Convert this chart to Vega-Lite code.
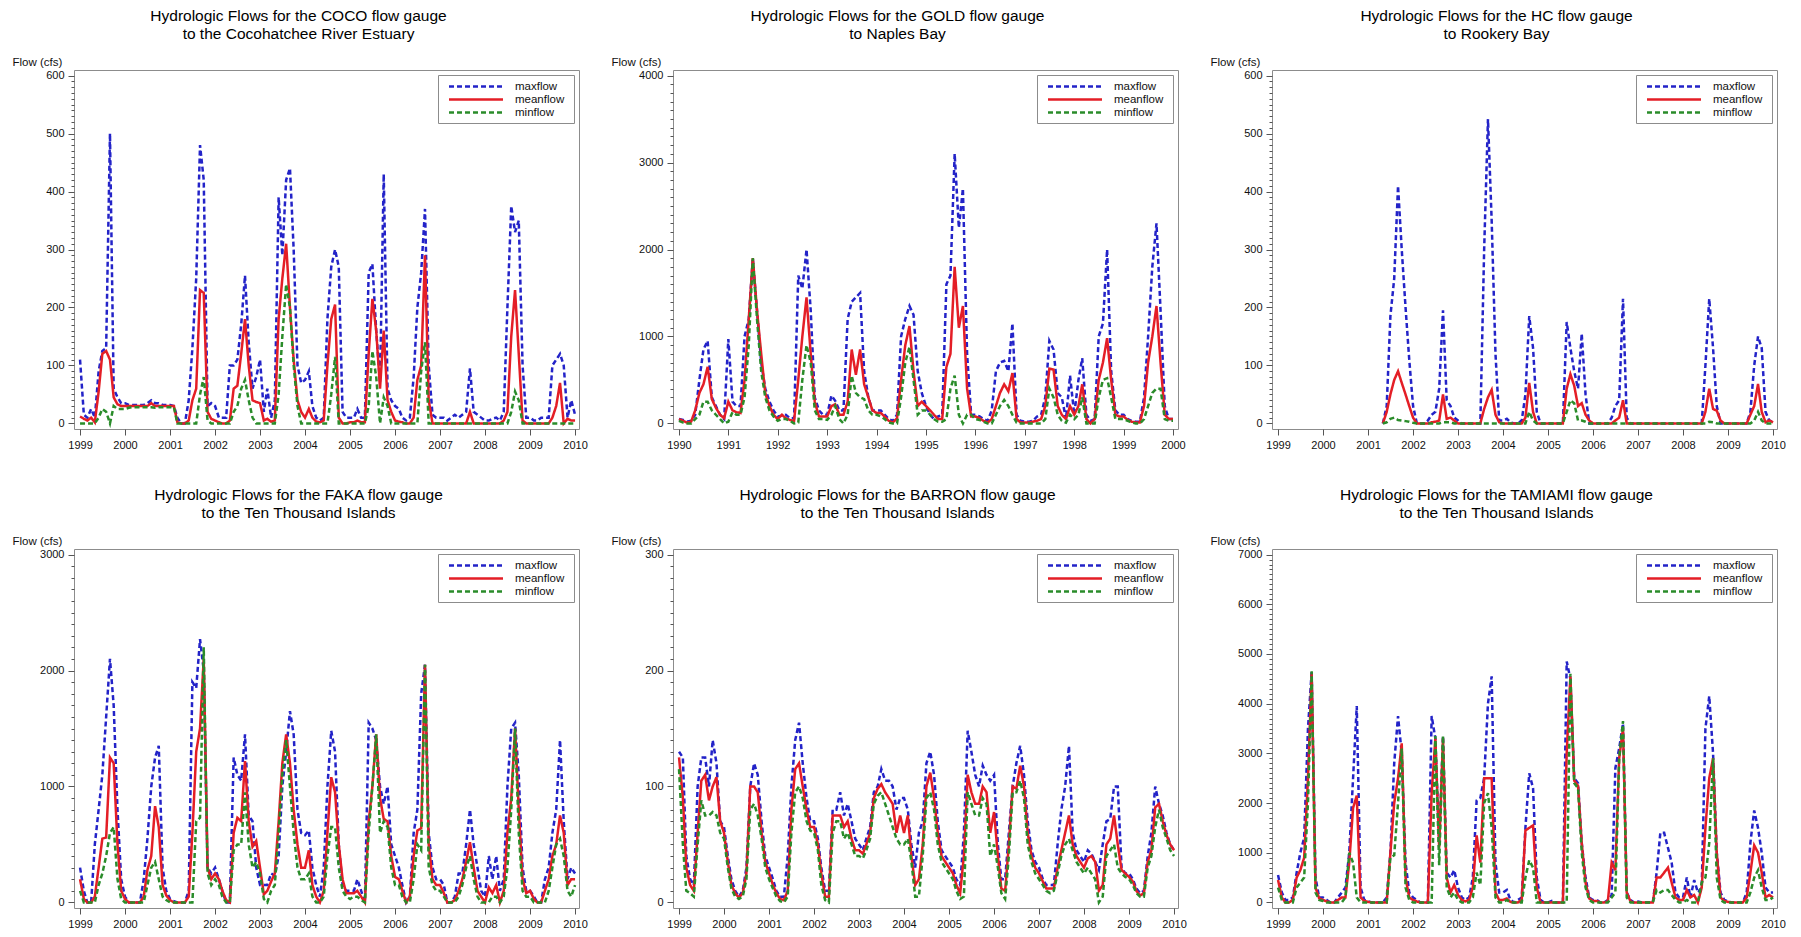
{
"$schema":"https://vega.github.io/schema/vega-lite/v6.json",
"background":"white",
"padding":{"left":11,"top":8,"right":0,"bottom":0},
"columns":3,
"spacing":{"row":120,"column":94},
"bounds":"flush",
"datasets":{
"coco":[
{"d":"1999-01","a":110,"m":12,"n":0},{"d":"1999-02","a":15,"m":8,"n":0},{"d":"1999-03","a":10,"m":5,"n":0},{"d":"1999-04","a":25,"m":10,"n":0},{"d":"1999-05","a":10,"m":2,"n":0},{"d":"1999-06","a":90,"m":55,"n":10},{"d":"1999-07","a":125,"m":120,"n":25},{"d":"1999-08","a":130,"m":125,"n":20},{"d":"1999-09","a":500,"m":110,"n":0},{"d":"1999-10","a":60,"m":45,"n":30},{"d":"1999-11","a":45,"m":33,"n":25},{"d":"1999-12","a":35,"m":30,"n":25},
{"d":"2000-01","a":35,"m":30,"n":25},{"d":"2000-02","a":32,"m":30,"n":27},{"d":"2000-03","a":32,"m":30,"n":28},{"d":"2000-04","a":32,"m":30,"n":28},{"d":"2000-05","a":32,"m":30,"n":28},{"d":"2000-06","a":32,"m":30,"n":28},{"d":"2000-07","a":35,"m":30,"n":28},{"d":"2000-08","a":40,"m":35,"n":28},{"d":"2000-09","a":35,"m":30,"n":27},{"d":"2000-10","a":35,"m":30,"n":28},{"d":"2000-11","a":32,"m":30,"n":28},{"d":"2000-12","a":32,"m":30,"n":28},
{"d":"2001-01","a":32,"m":30,"n":28},{"d":"2001-02","a":30,"m":30,"n":28},{"d":"2001-03","a":10,"m":2,"n":0},{"d":"2001-04","a":0,"m":0,"n":0},{"d":"2001-05","a":0,"m":0,"n":0},{"d":"2001-06","a":40,"m":5,"n":0},{"d":"2001-07","a":130,"m":40,"n":0},{"d":"2001-08","a":250,"m":60,"n":0},{"d":"2001-09","a":480,"m":230,"n":50},{"d":"2001-10","a":420,"m":225,"n":80},{"d":"2001-11","a":30,"m":20,"n":5},{"d":"2001-12","a":35,"m":8,"n":0},
{"d":"2002-01","a":30,"m":5,"n":0},{"d":"2002-02","a":10,"m":2,"n":0},{"d":"2002-03","a":10,"m":0,"n":0},{"d":"2002-04","a":10,"m":0,"n":0},{"d":"2002-05","a":100,"m":5,"n":0},{"d":"2002-06","a":100,"m":60,"n":20},{"d":"2002-07","a":110,"m":65,"n":30},{"d":"2002-08","a":170,"m":120,"n":60},{"d":"2002-09","a":255,"m":180,"n":75},{"d":"2002-10","a":140,"m":100,"n":40},{"d":"2002-11","a":60,"m":40,"n":10},{"d":"2002-12","a":80,"m":37,"n":0},
{"d":"2003-01","a":110,"m":35,"n":0},{"d":"2003-02","a":20,"m":5,"n":0},{"d":"2003-03","a":60,"m":8,"n":0},{"d":"2003-04","a":10,"m":3,"n":0},{"d":"2003-05","a":40,"m":5,"n":0},{"d":"2003-06","a":390,"m":180,"n":50},{"d":"2003-07","a":290,"m":250,"n":150},{"d":"2003-08","a":420,"m":310,"n":240},{"d":"2003-09","a":440,"m":200,"n":200},{"d":"2003-10","a":300,"m":110,"n":100},{"d":"2003-11","a":100,"m":40,"n":30},{"d":"2003-12","a":70,"m":20,"n":0},
{"d":"2004-01","a":75,"m":10,"n":0},{"d":"2004-02","a":90,"m":25,"n":0},{"d":"2004-03","a":30,"m":10,"n":0},{"d":"2004-04","a":10,"m":3,"n":0},{"d":"2004-05","a":5,"m":2,"n":0},{"d":"2004-06","a":10,"m":5,"n":0},{"d":"2004-07","a":180,"m":100,"n":0},{"d":"2004-08","a":270,"m":180,"n":50},{"d":"2004-09","a":300,"m":205,"n":115},{"d":"2004-10","a":270,"m":10,"n":0},{"d":"2004-11","a":20,"m":0,"n":0},{"d":"2004-12","a":10,"m":0,"n":0},
{"d":"2005-01","a":10,"m":2,"n":0},{"d":"2005-02","a":10,"m":2,"n":0},{"d":"2005-03","a":25,"m":5,"n":0},{"d":"2005-04","a":10,"m":2,"n":0},{"d":"2005-05","a":10,"m":2,"n":0},{"d":"2005-06","a":260,"m":120,"n":30},{"d":"2005-07","a":275,"m":215,"n":125},{"d":"2005-08","a":160,"m":160,"n":80},{"d":"2005-09","a":70,"m":60,"n":0},{"d":"2005-10","a":430,"m":160,"n":45},{"d":"2005-11","a":60,"m":40,"n":30},{"d":"2005-12","a":40,"m":20,"n":0},
{"d":"2006-01","a":30,"m":5,"n":0},{"d":"2006-02","a":25,"m":3,"n":0},{"d":"2006-03","a":10,"m":2,"n":0},{"d":"2006-04","a":5,"m":0,"n":0},{"d":"2006-05","a":10,"m":0,"n":0},{"d":"2006-06","a":80,"m":10,"n":0},{"d":"2006-07","a":200,"m":75,"n":0},{"d":"2006-08","a":260,"m":100,"n":90},{"d":"2006-09","a":370,"m":290,"n":140},{"d":"2006-10","a":100,"m":40,"n":0},{"d":"2006-11","a":15,"m":0,"n":0},{"d":"2006-12","a":10,"m":0,"n":0},
{"d":"2007-01","a":10,"m":0,"n":0},{"d":"2007-02","a":10,"m":0,"n":0},{"d":"2007-03","a":5,"m":0,"n":0},{"d":"2007-04","a":10,"m":0,"n":0},{"d":"2007-05","a":15,"m":0,"n":0},{"d":"2007-06","a":10,"m":0,"n":0},{"d":"2007-07","a":15,"m":0,"n":0},{"d":"2007-08","a":20,"m":0,"n":0},{"d":"2007-09","a":95,"m":20,"n":0},{"d":"2007-10","a":20,"m":0,"n":0},{"d":"2007-11","a":15,"m":0,"n":0},{"d":"2007-12","a":10,"m":0,"n":0},
{"d":"2008-01","a":5,"m":0,"n":0},{"d":"2008-02","a":5,"m":0,"n":0},{"d":"2008-03","a":8,"m":0,"n":0},{"d":"2008-04","a":10,"m":0,"n":0},{"d":"2008-05","a":5,"m":0,"n":0},{"d":"2008-06","a":20,"m":5,"n":0},{"d":"2008-07","a":200,"m":20,"n":0},{"d":"2008-08","a":375,"m":150,"n":20},{"d":"2008-09","a":330,"m":230,"n":55},{"d":"2008-10","a":350,"m":120,"n":40},{"d":"2008-11","a":100,"m":5,"n":0},{"d":"2008-12","a":10,"m":0,"n":0},
{"d":"2009-01","a":10,"m":0,"n":0},{"d":"2009-02","a":5,"m":0,"n":0},{"d":"2009-03","a":5,"m":0,"n":0},{"d":"2009-04","a":10,"m":0,"n":0},{"d":"2009-05","a":10,"m":0,"n":0},{"d":"2009-06","a":10,"m":0,"n":0},{"d":"2009-07","a":100,"m":10,"n":0},{"d":"2009-08","a":110,"m":30,"n":0},{"d":"2009-09","a":120,"m":70,"n":0},{"d":"2009-10","a":100,"m":0,"n":0},{"d":"2009-11","a":10,"m":8,"n":0},{"d":"2009-12","a":40,"m":5,"n":0},
{"d":"2010-01","a":15,"m":5,"n":0}
],
"gold":[
{"d":"1990-01","a":50,"m":50,"n":30},{"d":"1990-02","a":40,"m":30,"n":10},{"d":"1990-03","a":20,"m":10,"n":0},{"d":"1990-04","a":30,"m":20,"n":0},{"d":"1990-05","a":100,"m":150,"n":50},{"d":"1990-06","a":500,"m":350,"n":100},{"d":"1990-07","a":850,"m":450,"n":250},{"d":"1990-08","a":950,"m":650,"n":250},{"d":"1990-09","a":300,"m":280,"n":150},{"d":"1990-10","a":200,"m":180,"n":100},{"d":"1990-11","a":100,"m":100,"n":50},{"d":"1990-12","a":50,"m":60,"n":0},
{"d":"1991-01","a":970,"m":250,"n":20},{"d":"1991-02","a":250,"m":150,"n":130},{"d":"1991-03","a":200,"m":130,"n":100},{"d":"1991-04","a":200,"m":120,"n":100},{"d":"1991-05","a":1000,"m":500,"n":300},{"d":"1991-06","a":1200,"m":1200,"n":900},{"d":"1991-07","a":1900,"m":1900,"n":1900},{"d":"1991-08","a":1300,"m":1300,"n":1200},{"d":"1991-09","a":700,"m":800,"n":600},{"d":"1991-10","a":400,"m":350,"n":300},{"d":"1991-11","a":250,"m":200,"n":150},{"d":"1991-12","a":150,"m":100,"n":80},
{"d":"1992-01","a":80,"m":50,"n":30},{"d":"1992-02","a":90,"m":100,"n":50},{"d":"1992-03","a":100,"m":60,"n":50},{"d":"1992-04","a":60,"m":40,"n":30},{"d":"1992-05","a":60,"m":30,"n":0},{"d":"1992-06","a":1700,"m":500,"n":10},{"d":"1992-07","a":1550,"m":1000,"n":500},{"d":"1992-08","a":2000,"m":1450,"n":900},{"d":"1992-09","a":1300,"m":800,"n":700},{"d":"1992-10","a":300,"m":250,"n":150},{"d":"1992-11","a":150,"m":80,"n":50},{"d":"1992-12","a":100,"m":80,"n":50},
{"d":"1993-01","a":100,"m":80,"n":40},{"d":"1993-02","a":320,"m":200,"n":100},{"d":"1993-03","a":260,"m":220,"n":200},{"d":"1993-04","a":150,"m":100,"n":50},{"d":"1993-05","a":150,"m":100,"n":0},{"d":"1993-06","a":1200,"m":250,"n":100},{"d":"1993-07","a":1400,"m":850,"n":550},{"d":"1993-08","a":1450,"m":560,"n":350},{"d":"1993-09","a":1500,"m":850,"n":300},{"d":"1993-10","a":600,"m":450,"n":280},{"d":"1993-11","a":300,"m":300,"n":150},{"d":"1993-12","a":150,"m":150,"n":100},
{"d":"1994-01","a":150,"m":120,"n":100},{"d":"1994-02","a":150,"m":120,"n":80},{"d":"1994-03","a":100,"m":80,"n":50},{"d":"1994-04","a":50,"m":30,"n":10},{"d":"1994-05","a":30,"m":10,"n":0},{"d":"1994-06","a":100,"m":60,"n":0},{"d":"1994-07","a":1000,"m":500,"n":300},{"d":"1994-08","a":1200,"m":900,"n":700},{"d":"1994-09","a":1350,"m":1120,"n":880},{"d":"1994-10","a":1250,"m":600,"n":500},{"d":"1994-11","a":600,"m":200,"n":100},{"d":"1994-12","a":350,"m":250,"n":150},
{"d":"1995-01","a":200,"m":200,"n":150},{"d":"1995-02","a":100,"m":150,"n":100},{"d":"1995-03","a":50,"m":100,"n":50},{"d":"1995-04","a":80,"m":50,"n":20},{"d":"1995-05","a":100,"m":50,"n":20},{"d":"1995-06","a":1600,"m":650,"n":50},{"d":"1995-07","a":1700,"m":800,"n":400},{"d":"1995-08","a":3100,"m":1800,"n":550},{"d":"1995-09","a":2250,"m":1100,"n":100},{"d":"1995-10","a":2700,"m":1350,"n":0},{"d":"1995-11","a":800,"m":400,"n":100},{"d":"1995-12","a":100,"m":80,"n":100},
{"d":"1996-01","a":100,"m":80,"n":50},{"d":"1996-02","a":80,"m":60,"n":40},{"d":"1996-03","a":50,"m":30,"n":20},{"d":"1996-04","a":30,"m":10,"n":0},{"d":"1996-05","a":150,"m":50,"n":0},{"d":"1996-06","a":600,"m":200,"n":100},{"d":"1996-07","a":700,"m":350,"n":200},{"d":"1996-08","a":720,"m":450,"n":270},{"d":"1996-09","a":600,"m":370,"n":200},{"d":"1996-10","a":1150,"m":580,"n":100},{"d":"1996-11","a":100,"m":50,"n":10},{"d":"1996-12","a":30,"m":10,"n":0},
{"d":"1997-01","a":20,"m":10,"n":0},{"d":"1997-02","a":20,"m":10,"n":0},{"d":"1997-03","a":30,"m":20,"n":0},{"d":"1997-04","a":80,"m":30,"n":0},{"d":"1997-05","a":100,"m":50,"n":0},{"d":"1997-06","a":300,"m":200,"n":50},{"d":"1997-07","a":950,"m":630,"n":400},{"d":"1997-08","a":850,"m":620,"n":300},{"d":"1997-09","a":350,"m":200,"n":100},{"d":"1997-10","a":300,"m":100,"n":30},{"d":"1997-11","a":50,"m":50,"n":10},{"d":"1997-12","a":550,"m":200,"n":100},
{"d":"1998-01","a":100,"m":100,"n":50},{"d":"1998-02","a":500,"m":200,"n":100},{"d":"1998-03","a":750,"m":450,"n":300},{"d":"1998-04","a":100,"m":50,"n":0},{"d":"1998-05","a":30,"m":0,"n":0},{"d":"1998-06","a":50,"m":50,"n":0},{"d":"1998-07","a":1000,"m":500,"n":300},{"d":"1998-08","a":1150,"m":700,"n":500},{"d":"1998-09","a":2000,"m":980,"n":520},{"d":"1998-10","a":600,"m":500,"n":300},{"d":"1998-11","a":150,"m":100,"n":50},{"d":"1998-12","a":100,"m":80,"n":50},
{"d":"1999-01","a":100,"m":80,"n":50},{"d":"1999-02","a":50,"m":40,"n":30},{"d":"1999-03","a":30,"m":20,"n":10},{"d":"1999-04","a":20,"m":10,"n":0},{"d":"1999-05","a":20,"m":10,"n":0},{"d":"1999-06","a":300,"m":200,"n":50},{"d":"1999-07","a":1000,"m":700,"n":200},{"d":"1999-08","a":1800,"m":1000,"n":350},{"d":"1999-09","a":2300,"m":1350,"n":400},{"d":"1999-10","a":1300,"m":700,"n":400},{"d":"1999-11","a":200,"m":100,"n":50},{"d":"1999-12","a":50,"m":50,"n":30},
{"d":"2000-01","a":50,"m":50,"n":30}
],
"hc":[
{"d":"2001-05","a":0,"m":0,"n":0},{"d":"2001-06","a":30,"m":20,"n":2},{"d":"2001-07","a":185,"m":50,"n":8},{"d":"2001-08","a":250,"m":75,"n":10},{"d":"2001-09","a":410,"m":90,"n":6},{"d":"2001-10","a":300,"m":70,"n":5},{"d":"2001-11","a":200,"m":50,"n":4},{"d":"2001-12","a":110,"m":30,"n":3},
{"d":"2002-01","a":30,"m":10,"n":1},{"d":"2002-02","a":0,"m":0,"n":0},{"d":"2002-03","a":0,"m":0,"n":0},{"d":"2002-04","a":0,"m":0,"n":0},{"d":"2002-05","a":5,"m":0,"n":0},{"d":"2002-06","a":15,"m":2,"n":0},{"d":"2002-07","a":20,"m":3,"n":0},{"d":"2002-08","a":60,"m":5,"n":0},{"d":"2002-09","a":195,"m":50,"n":2},{"d":"2002-10","a":40,"m":8,"n":2},{"d":"2002-11","a":30,"m":10,"n":2},{"d":"2002-12","a":10,"m":5,"n":0},
{"d":"2003-01","a":5,"m":0,"n":0},{"d":"2003-02","a":0,"m":0,"n":0},{"d":"2003-03","a":0,"m":0,"n":0},{"d":"2003-04","a":0,"m":0,"n":0},{"d":"2003-05","a":0,"m":0,"n":0},{"d":"2003-06","a":0,"m":0,"n":0},{"d":"2003-07","a":0,"m":0,"n":0},{"d":"2003-08","a":300,"m":25,"n":0},{"d":"2003-09","a":525,"m":45,"n":0},{"d":"2003-10","a":350,"m":58,"n":0},{"d":"2003-11","a":120,"m":15,"n":0},{"d":"2003-12","a":5,"m":2,"n":0},
{"d":"2004-01","a":5,"m":0,"n":0},{"d":"2004-02","a":8,"m":0,"n":0},{"d":"2004-03","a":2,"m":0,"n":0},{"d":"2004-04","a":0,"m":0,"n":0},{"d":"2004-05","a":0,"m":0,"n":0},{"d":"2004-06","a":5,"m":0,"n":0},{"d":"2004-07","a":50,"m":10,"n":0},{"d":"2004-08","a":185,"m":70,"n":20},{"d":"2004-09","a":130,"m":20,"n":5},{"d":"2004-10","a":20,"m":0,"n":0},{"d":"2004-11","a":0,"m":0,"n":0},{"d":"2004-12","a":0,"m":0,"n":0},
{"d":"2005-01","a":0,"m":0,"n":0},{"d":"2005-02","a":0,"m":0,"n":0},{"d":"2005-03","a":0,"m":0,"n":0},{"d":"2005-04","a":0,"m":0,"n":0},{"d":"2005-05","a":0,"m":0,"n":0},{"d":"2005-06","a":175,"m":60,"n":20},{"d":"2005-07","a":130,"m":85,"n":40},{"d":"2005-08","a":90,"m":65,"n":35},{"d":"2005-09","a":60,"m":30,"n":5},{"d":"2005-10","a":155,"m":35,"n":5},{"d":"2005-11","a":50,"m":15,"n":3},{"d":"2005-12","a":0,"m":5,"n":0},
{"d":"2006-01","a":0,"m":0,"n":0},{"d":"2006-02","a":0,"m":0,"n":0},{"d":"2006-03","a":0,"m":0,"n":0},{"d":"2006-04","a":0,"m":0,"n":0},{"d":"2006-05","a":0,"m":0,"n":0},{"d":"2006-06","a":10,"m":0,"n":0},{"d":"2006-07","a":30,"m":5,"n":0},{"d":"2006-08","a":40,"m":10,"n":0},{"d":"2006-09","a":215,"m":40,"n":0},{"d":"2006-10","a":10,"m":0,"n":0},{"d":"2006-11","a":0,"m":0,"n":0},{"d":"2006-12","a":0,"m":0,"n":0},
{"d":"2007-01","a":0,"m":0,"n":0},{"d":"2007-02","a":0,"m":0,"n":0},{"d":"2007-03","a":0,"m":0,"n":0},{"d":"2007-04","a":0,"m":0,"n":0},{"d":"2007-05","a":0,"m":0,"n":0},{"d":"2007-06","a":0,"m":0,"n":0},{"d":"2007-07","a":0,"m":0,"n":0},{"d":"2007-08","a":0,"m":0,"n":0},{"d":"2007-09","a":0,"m":0,"n":0},{"d":"2007-10","a":0,"m":0,"n":0},{"d":"2007-11","a":0,"m":0,"n":0},{"d":"2007-12","a":0,"m":0,"n":0},
{"d":"2008-01","a":0,"m":0,"n":0},{"d":"2008-02","a":0,"m":0,"n":0},{"d":"2008-03","a":0,"m":0,"n":0},{"d":"2008-04","a":0,"m":0,"n":0},{"d":"2008-05","a":0,"m":0,"n":0},{"d":"2008-06","a":0,"m":0,"n":0},{"d":"2008-07","a":100,"m":20,"n":0},{"d":"2008-08","a":215,"m":60,"n":3},{"d":"2008-09","a":130,"m":25,"n":2},{"d":"2008-10","a":30,"m":22,"n":0},{"d":"2008-11","a":0,"m":5,"n":0},{"d":"2008-12","a":0,"m":0,"n":0},
{"d":"2009-01","a":0,"m":0,"n":0},{"d":"2009-02","a":0,"m":0,"n":0},{"d":"2009-03","a":0,"m":0,"n":0},{"d":"2009-04","a":0,"m":0,"n":0},{"d":"2009-05","a":0,"m":0,"n":0},{"d":"2009-06","a":0,"m":0,"n":0},{"d":"2009-07","a":20,"m":15,"n":0},{"d":"2009-08","a":100,"m":30,"n":5},{"d":"2009-09","a":150,"m":68,"n":20},{"d":"2009-10","a":130,"m":20,"n":5},{"d":"2009-11","a":20,"m":2,"n":0},{"d":"2009-12","a":5,"m":5,"n":0},
{"d":"2010-01","a":3,"m":2,"n":0}
],
"faka":[
{"d":"1999-01","a":300,"m":200,"n":100},{"d":"1999-02","a":100,"m":30,"n":0},{"d":"1999-03","a":0,"m":0,"n":0},{"d":"1999-04","a":0,"m":0,"n":0},{"d":"1999-05","a":500,"m":50,"n":0},{"d":"1999-06","a":800,"m":300,"n":150},{"d":"1999-07","a":1100,"m":550,"n":250},{"d":"1999-08","a":1600,"m":560,"n":400},{"d":"1999-09","a":2100,"m":1250,"n":600},{"d":"1999-10","a":1700,"m":1200,"n":650},{"d":"1999-11","a":800,"m":500,"n":200},{"d":"1999-12","a":200,"m":100,"n":30},
{"d":"2000-01","a":50,"m":30,"n":0},{"d":"2000-02","a":0,"m":0,"n":0},{"d":"2000-03","a":0,"m":0,"n":0},{"d":"2000-04","a":0,"m":0,"n":0},{"d":"2000-05","a":0,"m":0,"n":0},{"d":"2000-06","a":200,"m":50,"n":0},{"d":"2000-07","a":550,"m":280,"n":150},{"d":"2000-08","a":1000,"m":400,"n":300},{"d":"2000-09","a":1250,"m":830,"n":350},{"d":"2000-10","a":1350,"m":650,"n":200},{"d":"2000-11","a":300,"m":150,"n":50},{"d":"2000-12","a":100,"m":60,"n":20},
{"d":"2001-01","a":30,"m":20,"n":0},{"d":"2001-02","a":10,"m":0,"n":0},{"d":"2001-03","a":0,"m":0,"n":0},{"d":"2001-04","a":0,"m":0,"n":0},{"d":"2001-05","a":0,"m":0,"n":0},{"d":"2001-06","a":100,"m":50,"n":0},{"d":"2001-07","a":1900,"m":600,"n":0},{"d":"2001-08","a":1850,"m":1300,"n":700},{"d":"2001-09","a":2270,"m":1500,"n":730},{"d":"2001-10","a":2000,"m":2100,"n":2200},{"d":"2001-11","a":300,"m":300,"n":250},{"d":"2001-12","a":250,"m":200,"n":150},
{"d":"2002-01","a":300,"m":250,"n":200},{"d":"2002-02","a":200,"m":200,"n":150},{"d":"2002-03","a":100,"m":100,"n":50},{"d":"2002-04","a":0,"m":20,"n":0},{"d":"2002-05","a":0,"m":0,"n":0},{"d":"2002-06","a":1250,"m":600,"n":450},{"d":"2002-07","a":1100,"m":730,"n":500},{"d":"2002-08","a":1050,"m":700,"n":500},{"d":"2002-09","a":1450,"m":1220,"n":950},{"d":"2002-10","a":750,"m":700,"n":500},{"d":"2002-11","a":700,"m":480,"n":300},{"d":"2002-12","a":300,"m":530,"n":350},
{"d":"2003-01","a":150,"m":300,"n":250},{"d":"2003-02","a":150,"m":70,"n":30},{"d":"2003-03","a":150,"m":100,"n":0},{"d":"2003-04","a":250,"m":180,"n":100},{"d":"2003-05","a":230,"m":250,"n":150},{"d":"2003-06","a":400,"m":700,"n":600},{"d":"2003-07","a":1000,"m":1200,"n":1100},{"d":"2003-08","a":1300,"m":1450,"n":1400},{"d":"2003-09","a":1650,"m":1200,"n":1000},{"d":"2003-10","a":1450,"m":800,"n":600},{"d":"2003-11","a":800,"m":500,"n":300},{"d":"2003-12","a":600,"m":300,"n":200},
{"d":"2004-01","a":580,"m":300,"n":200},{"d":"2004-02","a":620,"m":450,"n":250},{"d":"2004-03","a":300,"m":150,"n":50},{"d":"2004-04","a":150,"m":50,"n":0},{"d":"2004-05","a":50,"m":0,"n":0},{"d":"2004-06","a":300,"m":100,"n":50},{"d":"2004-07","a":1000,"m":600,"n":400},{"d":"2004-08","a":1480,"m":1080,"n":650},{"d":"2004-09","a":1300,"m":950,"n":650},{"d":"2004-10","a":500,"m":500,"n":300},{"d":"2004-11","a":150,"m":200,"n":100},{"d":"2004-12","a":100,"m":80,"n":50},
{"d":"2005-01","a":100,"m":80,"n":30},{"d":"2005-02","a":100,"m":80,"n":50},{"d":"2005-03","a":200,"m":100,"n":50},{"d":"2005-04","a":100,"m":50,"n":20},{"d":"2005-05","a":0,"m":0,"n":0},{"d":"2005-06","a":1550,"m":700,"n":600},{"d":"2005-07","a":1500,"m":1000,"n":1000},{"d":"2005-08","a":1400,"m":1450,"n":1450},{"d":"2005-09","a":1000,"m":900,"n":600},{"d":"2005-10","a":850,"m":720,"n":700},{"d":"2005-11","a":1000,"m":700,"n":650},{"d":"2005-12","a":500,"m":400,"n":300},
{"d":"2006-01","a":400,"m":220,"n":150},{"d":"2006-02","a":300,"m":200,"n":150},{"d":"2006-03","a":150,"m":100,"n":50},{"d":"2006-04","a":0,"m":0,"n":0},{"d":"2006-05","a":50,"m":50,"n":0},{"d":"2006-06","a":600,"m":400,"n":200},{"d":"2006-07","a":800,"m":620,"n":500},{"d":"2006-08","a":1800,"m":640,"n":450},{"d":"2006-09","a":2050,"m":2050,"n":2050},{"d":"2006-10","a":600,"m":500,"n":300},{"d":"2006-11","a":300,"m":200,"n":150},{"d":"2006-12","a":200,"m":150,"n":100},
{"d":"2007-01","a":200,"m":150,"n":100},{"d":"2007-02","a":150,"m":80,"n":50},{"d":"2007-03","a":0,"m":0,"n":0},{"d":"2007-04","a":0,"m":0,"n":0},{"d":"2007-05","a":50,"m":20,"n":0},{"d":"2007-06","a":250,"m":100,"n":50},{"d":"2007-07","a":250,"m":200,"n":150},{"d":"2007-08","a":500,"m":350,"n":300},{"d":"2007-09","a":800,"m":520,"n":400},{"d":"2007-10","a":500,"m":300,"n":200},{"d":"2007-11","a":300,"m":100,"n":50},{"d":"2007-12","a":100,"m":50,"n":0},
{"d":"2008-01","a":50,"m":0,"n":0},{"d":"2008-02","a":400,"m":130,"n":0},{"d":"2008-03","a":200,"m":80,"n":50},{"d":"2008-04","a":400,"m":150,"n":50},{"d":"2008-05","a":100,"m":0,"n":0},{"d":"2008-06","a":200,"m":100,"n":50},{"d":"2008-07","a":1000,"m":600,"n":300},{"d":"2008-08","a":1500,"m":900,"n":800},{"d":"2008-09","a":1550,"m":1500,"n":1500},{"d":"2008-10","a":1100,"m":800,"n":600},{"d":"2008-11","a":300,"m":200,"n":100},{"d":"2008-12","a":100,"m":80,"n":50},
{"d":"2009-01","a":100,"m":100,"n":50},{"d":"2009-02","a":50,"m":30,"n":0},{"d":"2009-03","a":0,"m":0,"n":0},{"d":"2009-04","a":0,"m":0,"n":0},{"d":"2009-05","a":200,"m":100,"n":0},{"d":"2009-06","a":300,"m":200,"n":100},{"d":"2009-07","a":600,"m":400,"n":300},{"d":"2009-08","a":800,"m":500,"n":500},{"d":"2009-09","a":1400,"m":750,"n":550},{"d":"2009-10","a":700,"m":600,"n":400},{"d":"2009-11","a":200,"m":150,"n":100},{"d":"2009-12","a":300,"m":200,"n":50},
{"d":"2010-01","a":250,"m":200,"n":150}
],
"barron":[
{"d":"1999-01","a":130,"m":125,"n":115},{"d":"1999-02","a":125,"m":90,"n":50},{"d":"1999-03","a":40,"m":30,"n":10},{"d":"1999-04","a":20,"m":15,"n":8},{"d":"1999-05","a":15,"m":10,"n":5},{"d":"1999-06","a":100,"m":60,"n":50},{"d":"1999-07","a":125,"m":105,"n":88},{"d":"1999-08","a":125,"m":110,"n":75},{"d":"1999-09","a":100,"m":88,"n":75},{"d":"1999-10","a":140,"m":100,"n":78},{"d":"1999-11","a":120,"m":108,"n":75},{"d":"1999-12","a":70,"m":70,"n":60},
{"d":"2000-01","a":65,"m":60,"n":55},{"d":"2000-02","a":40,"m":35,"n":30},{"d":"2000-03","a":20,"m":15,"n":12},{"d":"2000-04","a":10,"m":8,"n":5},{"d":"2000-05","a":5,"m":4,"n":3},{"d":"2000-06","a":10,"m":8,"n":5},{"d":"2000-07","a":30,"m":25,"n":20},{"d":"2000-08","a":100,"m":100,"n":80},{"d":"2000-09","a":120,"m":100,"n":85},{"d":"2000-10","a":110,"m":95,"n":75},{"d":"2000-11","a":70,"m":60,"n":55},{"d":"2000-12","a":40,"m":35,"n":30},
{"d":"2001-01","a":30,"m":25,"n":20},{"d":"2001-02","a":20,"m":15,"n":12},{"d":"2001-03","a":10,"m":8,"n":5},{"d":"2001-04","a":5,"m":3,"n":1},{"d":"2001-05","a":5,"m":2,"n":0},{"d":"2001-06","a":40,"m":10,"n":5},{"d":"2001-07","a":100,"m":80,"n":60},{"d":"2001-08","a":140,"m":115,"n":95},{"d":"2001-09","a":155,"m":120,"n":100},{"d":"2001-10","a":120,"m":100,"n":90},{"d":"2001-11","a":90,"m":80,"n":70},{"d":"2001-12","a":70,"m":65,"n":62},
{"d":"2002-01","a":70,"m":65,"n":60},{"d":"2002-02","a":55,"m":50,"n":45},{"d":"2002-03","a":30,"m":25,"n":15},{"d":"2002-04","a":10,"m":5,"n":2},{"d":"2002-05","a":10,"m":5,"n":0},{"d":"2002-06","a":80,"m":75,"n":60},{"d":"2002-07","a":80,"m":75,"n":70},{"d":"2002-08","a":95,"m":75,"n":70},{"d":"2002-09","a":75,"m":65,"n":55},{"d":"2002-10","a":85,"m":70,"n":60},{"d":"2002-11","a":70,"m":55,"n":50},{"d":"2002-12","a":55,"m":45,"n":40},
{"d":"2003-01","a":50,"m":45,"n":40},{"d":"2003-02","a":45,"m":42,"n":38},{"d":"2003-03","a":55,"m":50,"n":45},{"d":"2003-04","a":65,"m":60,"n":55},{"d":"2003-05","a":95,"m":90,"n":85},{"d":"2003-06","a":100,"m":98,"n":92},{"d":"2003-07","a":115,"m":102,"n":95},{"d":"2003-08","a":105,"m":95,"n":85},{"d":"2003-09","a":105,"m":90,"n":75},{"d":"2003-10","a":100,"m":85,"n":65},{"d":"2003-11","a":80,"m":60,"n":55},{"d":"2003-12","a":90,"m":75,"n":50},
{"d":"2004-01","a":90,"m":60,"n":50},{"d":"2004-02","a":80,"m":75,"n":55},{"d":"2004-03","a":50,"m":40,"n":35},{"d":"2004-04","a":30,"m":15,"n":5},{"d":"2004-05","a":60,"m":20,"n":5},{"d":"2004-06","a":70,"m":50,"n":40},{"d":"2004-07","a":120,"m":100,"n":90},{"d":"2004-08","a":130,"m":112,"n":95},{"d":"2004-09","a":110,"m":90,"n":80},{"d":"2004-10","a":70,"m":60,"n":50},{"d":"2004-11","a":45,"m":40,"n":35},{"d":"2004-12","a":40,"m":35,"n":30},
{"d":"2005-01","a":35,"m":30,"n":25},{"d":"2005-02","a":30,"m":25,"n":20},{"d":"2005-03","a":20,"m":15,"n":10},{"d":"2005-04","a":15,"m":8,"n":3},{"d":"2005-05","a":60,"m":40,"n":5},{"d":"2005-06","a":148,"m":110,"n":95},{"d":"2005-07","a":130,"m":95,"n":85},{"d":"2005-08","a":110,"m":85,"n":75},{"d":"2005-09","a":100,"m":85,"n":75},{"d":"2005-10","a":118,"m":100,"n":90},{"d":"2005-11","a":110,"m":95,"n":85},{"d":"2005-12","a":105,"m":60,"n":40},
{"d":"2006-01","a":110,"m":78,"n":50},{"d":"2006-02","a":50,"m":40,"n":30},{"d":"2006-03","a":20,"m":12,"n":8},{"d":"2006-04","a":20,"m":10,"n":3},{"d":"2006-05","a":60,"m":50,"n":40},{"d":"2006-06","a":100,"m":100,"n":95},{"d":"2006-07","a":120,"m":98,"n":95},{"d":"2006-08","a":135,"m":118,"n":105},{"d":"2006-09","a":110,"m":100,"n":90},{"d":"2006-10","a":70,"m":60,"n":50},{"d":"2006-11","a":45,"m":40,"n":35},{"d":"2006-12","a":35,"m":30,"n":25},
{"d":"2007-01","a":30,"m":25,"n":20},{"d":"2007-02","a":20,"m":18,"n":15},{"d":"2007-03","a":15,"m":12,"n":10},{"d":"2007-04","a":15,"m":12,"n":8},{"d":"2007-05","a":15,"m":12,"n":10},{"d":"2007-06","a":50,"m":30,"n":25},{"d":"2007-07","a":80,"m":45,"n":40},{"d":"2007-08","a":100,"m":60,"n":50},{"d":"2007-09","a":135,"m":75,"n":55},{"d":"2007-10","a":60,"m":50,"n":45},{"d":"2007-11","a":45,"m":40,"n":35},{"d":"2007-12","a":40,"m":35,"n":30},
{"d":"2008-01","a":35,"m":30,"n":25},{"d":"2008-02","a":45,"m":38,"n":30},{"d":"2008-03","a":42,"m":40,"n":25},{"d":"2008-04","a":35,"m":35,"n":20},{"d":"2008-05","a":28,"m":10,"n":0},{"d":"2008-06","a":50,"m":15,"n":5},{"d":"2008-07","a":70,"m":50,"n":40},{"d":"2008-08","a":72,"m":55,"n":45},{"d":"2008-09","a":100,"m":75,"n":50},{"d":"2008-10","a":100,"m":50,"n":30},{"d":"2008-11","a":30,"m":28,"n":25},{"d":"2008-12","a":25,"m":25,"n":22},
{"d":"2009-01","a":25,"m":22,"n":20},{"d":"2009-02","a":20,"m":18,"n":15},{"d":"2009-03","a":12,"m":10,"n":8},{"d":"2009-04","a":8,"m":6,"n":5},{"d":"2009-05","a":10,"m":8,"n":5},{"d":"2009-06","a":40,"m":35,"n":30},{"d":"2009-07","a":60,"m":45,"n":40},{"d":"2009-08","a":100,"m":82,"n":65},{"d":"2009-09","a":85,"m":85,"n":80},{"d":"2009-10","a":75,"m":70,"n":65},{"d":"2009-11","a":60,"m":58,"n":55},{"d":"2009-12","a":50,"m":50,"n":45},
{"d":"2010-01","a":45,"m":45,"n":40}
],
"tamiami":[
{"d":"1999-01","a":550,"m":450,"n":300},{"d":"1999-02","a":200,"m":100,"n":50},{"d":"1999-03","a":50,"m":0,"n":0},{"d":"1999-04","a":50,"m":0,"n":0},{"d":"1999-05","a":100,"m":50,"n":0},{"d":"1999-06","a":600,"m":500,"n":300},{"d":"1999-07","a":1000,"m":650,"n":400},{"d":"1999-08","a":1300,"m":900,"n":500},{"d":"1999-09","a":3500,"m":2500,"n":2000},{"d":"1999-10","a":4650,"m":4600,"n":4650},{"d":"1999-11","a":500,"m":300,"n":200},{"d":"1999-12","a":100,"m":80,"n":50},
{"d":"2000-01","a":100,"m":50,"n":30},{"d":"2000-02","a":50,"m":20,"n":0},{"d":"2000-03","a":0,"m":0,"n":0},{"d":"2000-04","a":0,"m":0,"n":0},{"d":"2000-05","a":100,"m":50,"n":0},{"d":"2000-06","a":200,"m":100,"n":0},{"d":"2000-07","a":300,"m":100,"n":100},{"d":"2000-08","a":1000,"m":800,"n":1000},{"d":"2000-09","a":2500,"m":1900,"n":800},{"d":"2000-10","a":3950,"m":2150,"n":100},{"d":"2000-11","a":300,"m":100,"n":0},{"d":"2000-12","a":50,"m":30,"n":0},
{"d":"2001-01","a":20,"m":10,"n":0},{"d":"2001-02","a":0,"m":0,"n":0},{"d":"2001-03","a":0,"m":0,"n":0},{"d":"2001-04","a":0,"m":0,"n":0},{"d":"2001-05","a":0,"m":0,"n":0},{"d":"2001-06","a":100,"m":0,"n":0},{"d":"2001-07","a":1000,"m":1000,"n":900},{"d":"2001-08","a":2800,"m":2000,"n":950},{"d":"2001-09","a":3750,"m":2500,"n":2000},{"d":"2001-10","a":3000,"m":3200,"n":3100},{"d":"2001-11","a":800,"m":500,"n":300},{"d":"2001-12","a":200,"m":100,"n":50},
{"d":"2002-01","a":100,"m":50,"n":0},{"d":"2002-02","a":50,"m":20,"n":0},{"d":"2002-03","a":0,"m":0,"n":0},{"d":"2002-04","a":0,"m":0,"n":0},{"d":"2002-05","a":0,"m":0,"n":0},{"d":"2002-06","a":3750,"m":2200,"n":0},{"d":"2002-07","a":3300,"m":3300,"n":3350},{"d":"2002-08","a":1200,"m":1100,"n":750},{"d":"2002-09","a":3350,"m":3300,"n":3350},{"d":"2002-10","a":600,"m":500,"n":300},{"d":"2002-11","a":500,"m":200,"n":100},{"d":"2002-12","a":650,"m":350,"n":200},
{"d":"2003-01","a":300,"m":150,"n":50},{"d":"2003-02","a":100,"m":50,"n":0},{"d":"2003-03","a":50,"m":20,"n":0},{"d":"2003-04","a":100,"m":50,"n":0},{"d":"2003-05","a":500,"m":300,"n":100},{"d":"2003-06","a":2050,"m":1350,"n":600},{"d":"2003-07","a":2100,"m":800,"n":350},{"d":"2003-08","a":2500,"m":2500,"n":2000},{"d":"2003-09","a":4000,"m":2500,"n":2200},{"d":"2003-10","a":4550,"m":2500,"n":1500},{"d":"2003-11","a":800,"m":200,"n":100},{"d":"2003-12","a":200,"m":50,"n":0},
{"d":"2004-01","a":200,"m":50,"n":0},{"d":"2004-02","a":250,"m":80,"n":50},{"d":"2004-03","a":50,"m":10,"n":0},{"d":"2004-04","a":0,"m":0,"n":0},{"d":"2004-05","a":50,"m":0,"n":0},{"d":"2004-06","a":100,"m":50,"n":0},{"d":"2004-07","a":1500,"m":1450,"n":500},{"d":"2004-08","a":2600,"m":1500,"n":850},{"d":"2004-09","a":2300,"m":1550,"n":700},{"d":"2004-10","a":500,"m":300,"n":0},{"d":"2004-11","a":50,"m":0,"n":0},{"d":"2004-12","a":0,"m":0,"n":0},
{"d":"2005-01","a":0,"m":0,"n":0},{"d":"2005-02","a":30,"m":0,"n":0},{"d":"2005-03","a":0,"m":0,"n":0},{"d":"2005-04","a":0,"m":0,"n":0},{"d":"2005-05","a":0,"m":0,"n":0},{"d":"2005-06","a":4850,"m":3000,"n":0},{"d":"2005-07","a":4500,"m":4550,"n":4600},{"d":"2005-08","a":2500,"m":2450,"n":2400},{"d":"2005-09","a":2400,"m":2350,"n":2300},{"d":"2005-10","a":1200,"m":1200,"n":1000},{"d":"2005-11","a":500,"m":400,"n":300},{"d":"2005-12","a":100,"m":80,"n":50},
{"d":"2006-01","a":50,"m":30,"n":0},{"d":"2006-02","a":50,"m":30,"n":0},{"d":"2006-03","a":0,"m":0,"n":0},{"d":"2006-04","a":0,"m":0,"n":0},{"d":"2006-05","a":50,"m":20,"n":0},{"d":"2006-06","a":150,"m":800,"n":100},{"d":"2006-07","a":2700,"m":650,"n":200},{"d":"2006-08","a":3100,"m":2900,"n":2900},{"d":"2006-09","a":3600,"m":3500,"n":3650},{"d":"2006-10","a":200,"m":200,"n":100},{"d":"2006-11","a":50,"m":20,"n":0},{"d":"2006-12","a":0,"m":0,"n":0},
{"d":"2007-01","a":20,"m":0,"n":0},{"d":"2007-02","a":0,"m":0,"n":0},{"d":"2007-03","a":0,"m":0,"n":0},{"d":"2007-04","a":0,"m":0,"n":0},{"d":"2007-05","a":0,"m":0,"n":0},{"d":"2007-06","a":600,"m":500,"n":250},{"d":"2007-07","a":1400,"m":500,"n":200},{"d":"2007-08","a":1400,"m":600,"n":250},{"d":"2007-09","a":1100,"m":700,"n":250},{"d":"2007-10","a":800,"m":400,"n":150},{"d":"2007-11","a":200,"m":100,"n":50},{"d":"2007-12","a":100,"m":50,"n":0},
{"d":"2008-01","a":100,"m":50,"n":0},{"d":"2008-02","a":500,"m":250,"n":50},{"d":"2008-03","a":100,"m":100,"n":0},{"d":"2008-04","a":450,"m":150,"n":0},{"d":"2008-05","a":200,"m":0,"n":0},{"d":"2008-06","a":300,"m":300,"n":400},{"d":"2008-07","a":3500,"m":1500,"n":500},{"d":"2008-08","a":4150,"m":2500,"n":1200},{"d":"2008-09","a":3000,"m":2900,"n":2900},{"d":"2008-10","a":1000,"m":1000,"n":500},{"d":"2008-11","a":200,"m":100,"n":50},{"d":"2008-12","a":50,"m":30,"n":0},
{"d":"2009-01","a":20,"m":10,"n":0},{"d":"2009-02","a":0,"m":0,"n":0},{"d":"2009-03","a":0,"m":0,"n":0},{"d":"2009-04","a":0,"m":0,"n":0},{"d":"2009-05","a":0,"m":0,"n":0},{"d":"2009-06","a":200,"m":100,"n":0},{"d":"2009-07","a":1200,"m":600,"n":200},{"d":"2009-08","a":1850,"m":1150,"n":500},{"d":"2009-09","a":1500,"m":1000,"n":650},{"d":"2009-10","a":1000,"m":600,"n":300},{"d":"2009-11","a":300,"m":100,"n":50},{"d":"2009-12","a":200,"m":150,"n":50},
{"d":"2010-01","a":200,"m":100,"n":100}
]
},
"concat":[
{"data":{"name":"coco"},"width":505,"height":359,
"title":{"text":["Hydrologic Flows for the COCO flow gauge","to the Cocohatchee River Estuary"]},
"transform":[{"fold":["a","m","n"],"as":["k","v"]}],
"mark":{"type":"line","strokeWidth":2.5},
"encoding":{
"x":{"field":"d","type":"temporal","title":null,"scale":{"domain":[{"year":1998,"month":11,"date":13},{"year":2010,"month":2,"date":2}],"nice":false},"axis":{"tickCount":{"interval":"year","step":1},"format":"%Y"}},
"y":{"field":"v","type":"quantitative","title":"Flow (cfs)","scale":{"domain":[-9.6,609.6],"nice":false,"zero":false},"axis":{"format":"d","values":[0,10,20,30,40,50,60,70,80,90,100,110,120,130,140,150,160,170,180,190,200,210,220,230,240,250,260,270,280,290,300,310,320,330,340,350,360,370,380,390,400,410,420,430,440,450,460,470,480,490,500,510,520,530,540,550,560,570,580,590,600],"labelExpr":"datum.value % 100 === 0 ? datum.label : ''","tickSize":{"condition":{"test":"datum.value % 100 === 0","value":6},"value":3}}},
"color":{"field":"k","type":"nominal","scale":{"domain":["a","m","n"],"range":["#2323c8","#e41e26","#2a8c2a"]},"legend":{"title":"  ","symbolType":"M-0.1,0H10.7","labelExpr":"datum.value == 'a' ? 'maxflow' : datum.value == 'm' ? 'meanflow' : 'minflow'"}},
"strokeDash":{"field":"k","type":"nominal","scale":{"domain":["a","m","n"],"range":[[5,3],[1,0],[5,3]]},"legend":{"title":"  ","symbolType":"M-0.1,0H10.7","labelExpr":"datum.value == 'a' ? 'maxflow' : datum.value == 'm' ? 'meanflow' : 'minflow'"}}
}},
{"data":{"name":"gold"},"width":505,"height":359,
"title":{"text":["Hydrologic Flows for the GOLD flow gauge","to Naples Bay"]},
"transform":[{"fold":["a","m","n"],"as":["k","v"]}],
"mark":{"type":"line","strokeWidth":2.5},
"encoding":{
"x":{"field":"d","type":"temporal","title":null,"scale":{"domain":[{"year":1989,"month":11,"date":18},{"year":2000,"month":2,"date":7}],"nice":false},"axis":{"tickCount":{"interval":"year","step":1},"format":"%Y"}},
"y":{"field":"v","type":"quantitative","title":"Flow (cfs)","scale":{"domain":[-64,4064],"nice":false,"zero":false},"axis":{"format":"d","values":[0,100,200,300,400,500,600,700,800,900,1000,1100,1200,1300,1400,1500,1600,1700,1800,1900,2000,2100,2200,2300,2400,2500,2600,2700,2800,2900,3000,3100,3200,3300,3400,3500,3600,3700,3800,3900,4000],"labelExpr":"datum.value % 1000 === 0 ? datum.label : ''","tickSize":{"condition":{"test":"datum.value % 1000 === 0","value":6},"value":3}}},
"color":{"field":"k","type":"nominal","scale":{"domain":["a","m","n"],"range":["#2323c8","#e41e26","#2a8c2a"]},"legend":{"title":"  ","symbolType":"M-0.1,0H10.7","labelExpr":"datum.value == 'a' ? 'maxflow' : datum.value == 'm' ? 'meanflow' : 'minflow'"}},
"strokeDash":{"field":"k","type":"nominal","scale":{"domain":["a","m","n"],"range":[[5,3],[1,0],[5,3]]},"legend":{"title":"  ","symbolType":"M-0.1,0H10.7","labelExpr":"datum.value == 'a' ? 'maxflow' : datum.value == 'm' ? 'meanflow' : 'minflow'"}}
}},
{"data":{"name":"hc"},"width":505,"height":359,
"title":{"text":["Hydrologic Flows for the HC flow gauge","to Rookery Bay"]},
"transform":[{"fold":["a","m","n"],"as":["k","v"]}],
"mark":{"type":"line","strokeWidth":2.5},
"encoding":{
"x":{"field":"d","type":"temporal","title":null,"scale":{"domain":[{"year":1998,"month":11,"date":13},{"year":2010,"month":2,"date":2}],"nice":false},"axis":{"tickCount":{"interval":"year","step":1},"format":"%Y"}},
"y":{"field":"v","type":"quantitative","title":"Flow (cfs)","scale":{"domain":[-9.6,609.6],"nice":false,"zero":false},"axis":{"format":"d","values":[0,10,20,30,40,50,60,70,80,90,100,110,120,130,140,150,160,170,180,190,200,210,220,230,240,250,260,270,280,290,300,310,320,330,340,350,360,370,380,390,400,410,420,430,440,450,460,470,480,490,500,510,520,530,540,550,560,570,580,590,600],"labelExpr":"datum.value % 100 === 0 ? datum.label : ''","tickSize":{"condition":{"test":"datum.value % 100 === 0","value":6},"value":3}}},
"color":{"field":"k","type":"nominal","scale":{"domain":["a","m","n"],"range":["#2323c8","#e41e26","#2a8c2a"]},"legend":{"title":"  ","symbolType":"M-0.1,0H10.7","labelExpr":"datum.value == 'a' ? 'maxflow' : datum.value == 'm' ? 'meanflow' : 'minflow'"}},
"strokeDash":{"field":"k","type":"nominal","scale":{"domain":["a","m","n"],"range":[[5,3],[1,0],[5,3]]},"legend":{"title":"  ","symbolType":"M-0.1,0H10.7","labelExpr":"datum.value == 'a' ? 'maxflow' : datum.value == 'm' ? 'meanflow' : 'minflow'"}}
}},
{"data":{"name":"faka"},"width":505,"height":359,
"title":{"text":["Hydrologic Flows for the FAKA flow gauge","to the Ten Thousand Islands"]},
"transform":[{"fold":["a","m","n"],"as":["k","v"]}],
"mark":{"type":"line","strokeWidth":2.5},
"encoding":{
"x":{"field":"d","type":"temporal","title":null,"scale":{"domain":[{"year":1998,"month":11,"date":13},{"year":2010,"month":2,"date":2}],"nice":false},"axis":{"tickCount":{"interval":"year","step":1},"format":"%Y"}},
"y":{"field":"v","type":"quantitative","title":"Flow (cfs)","scale":{"domain":[-48,3048],"nice":false,"zero":false},"axis":{"format":"d","values":[0,100,200,300,400,500,600,700,800,900,1000,1100,1200,1300,1400,1500,1600,1700,1800,1900,2000,2100,2200,2300,2400,2500,2600,2700,2800,2900,3000],"labelExpr":"datum.value % 1000 === 0 ? datum.label : ''","tickSize":{"condition":{"test":"datum.value % 1000 === 0","value":6},"value":3}}},
"color":{"field":"k","type":"nominal","scale":{"domain":["a","m","n"],"range":["#2323c8","#e41e26","#2a8c2a"]},"legend":{"title":"  ","symbolType":"M-0.1,0H10.7","labelExpr":"datum.value == 'a' ? 'maxflow' : datum.value == 'm' ? 'meanflow' : 'minflow'"}},
"strokeDash":{"field":"k","type":"nominal","scale":{"domain":["a","m","n"],"range":[[5,3],[1,0],[5,3]]},"legend":{"title":"  ","symbolType":"M-0.1,0H10.7","labelExpr":"datum.value == 'a' ? 'maxflow' : datum.value == 'm' ? 'meanflow' : 'minflow'"}}
}},
{"data":{"name":"barron"},"width":505,"height":359,
"title":{"text":["Hydrologic Flows for the BARRON flow gauge","to the Ten Thousand Islands"]},
"transform":[{"fold":["a","m","n"],"as":["k","v"]}],
"mark":{"type":"line","strokeWidth":2.5},
"encoding":{
"x":{"field":"d","type":"temporal","title":null,"scale":{"domain":[{"year":1998,"month":11,"date":13},{"year":2010,"month":2,"date":2}],"nice":false},"axis":{"tickCount":{"interval":"year","step":1},"format":"%Y"}},
"y":{"field":"v","type":"quantitative","title":"Flow (cfs)","scale":{"domain":[-4.8,304.8],"nice":false,"zero":false},"axis":{"format":"d","values":[0,10,20,30,40,50,60,70,80,90,100,110,120,130,140,150,160,170,180,190,200,210,220,230,240,250,260,270,280,290,300],"labelExpr":"datum.value % 100 === 0 ? datum.label : ''","tickSize":{"condition":{"test":"datum.value % 100 === 0","value":6},"value":3}}},
"color":{"field":"k","type":"nominal","scale":{"domain":["a","m","n"],"range":["#2323c8","#e41e26","#2a8c2a"]},"legend":{"title":"  ","symbolType":"M-0.1,0H10.7","labelExpr":"datum.value == 'a' ? 'maxflow' : datum.value == 'm' ? 'meanflow' : 'minflow'"}},
"strokeDash":{"field":"k","type":"nominal","scale":{"domain":["a","m","n"],"range":[[5,3],[1,0],[5,3]]},"legend":{"title":"  ","symbolType":"M-0.1,0H10.7","labelExpr":"datum.value == 'a' ? 'maxflow' : datum.value == 'm' ? 'meanflow' : 'minflow'"}}
}},
{"data":{"name":"tamiami"},"width":505,"height":359,
"title":{"text":["Hydrologic Flows for the TAMIAMI flow gauge","to the Ten Thousand Islands"]},
"transform":[{"fold":["a","m","n"],"as":["k","v"]}],
"mark":{"type":"line","strokeWidth":2.5},
"encoding":{
"x":{"field":"d","type":"temporal","title":null,"scale":{"domain":[{"year":1998,"month":11,"date":13},{"year":2010,"month":2,"date":2}],"nice":false},"axis":{"tickCount":{"interval":"year","step":1},"format":"%Y"}},
"y":{"field":"v","type":"quantitative","title":"Flow (cfs)","scale":{"domain":[-112,7112],"nice":false,"zero":false},"axis":{"format":"d","values":[0,100,200,300,400,500,600,700,800,900,1000,1100,1200,1300,1400,1500,1600,1700,1800,1900,2000,2100,2200,2300,2400,2500,2600,2700,2800,2900,3000,3100,3200,3300,3400,3500,3600,3700,3800,3900,4000,4100,4200,4300,4400,4500,4600,4700,4800,4900,5000,5100,5200,5300,5400,5500,5600,5700,5800,5900,6000,6100,6200,6300,6400,6500,6600,6700,6800,6900,7000],"labelExpr":"datum.value % 1000 === 0 ? datum.label : ''","tickSize":{"condition":{"test":"datum.value % 1000 === 0","value":6},"value":3}}},
"color":{"field":"k","type":"nominal","scale":{"domain":["a","m","n"],"range":["#2323c8","#e41e26","#2a8c2a"]},"legend":{"title":"  ","symbolType":"M-0.1,0H10.7","labelExpr":"datum.value == 'a' ? 'maxflow' : datum.value == 'm' ? 'meanflow' : 'minflow'"}},
"strokeDash":{"field":"k","type":"nominal","scale":{"domain":["a","m","n"],"range":[[5,3],[1,0],[5,3]]},"legend":{"title":"  ","symbolType":"M-0.1,0H10.7","labelExpr":"datum.value == 'a' ? 'maxflow' : datum.value == 'm' ? 'meanflow' : 'minflow'"}}
}}
],
"resolve":{"scale":{"x":"independent","y":"independent","color":"independent","strokeDash":"independent"},"legend":{"color":"independent","strokeDash":"independent"},"axis":{"x":"independent","y":"independent"}},
"config":{
"font":"Liberation Sans",
"view":{"stroke":"#8c8c8c","strokeWidth":1},
"axis":{"domain":false,"grid":false,"labelFont":"Liberation Sans","labelFontSize":11,"labelColor":"#111","tickColor":"#555","tickWidth":1,"labelPadding":4,"labelOverlap":false,"labelFlush":false,"titleFont":"Liberation Sans","titleFontSize":11.5,"titleFontWeight":"normal","titleColor":"#111"},
"axisX":{"tickSize":6},
"axisY":{"titleAngle":0,"titleAlign":"left","titleBaseline":"middle","titleX":-62,"titleY":-8},
"legend":{"orient":"top-right","offset":5,"padding":5,"rowPadding":1,"strokeColor":"#8c8c8c","fillColor":"white","symbolSize":100,"symbolStrokeWidth":2.5,"labelFont":"Liberation Sans","labelFontSize":11.5,"labelColor":"#111","labelOffset":59,"titleOrient":"right","titlePadding":5,"titleFontSize":11.5},
"title":{"font":"Liberation Sans","fontSize":15.5,"fontWeight":"normal","lineHeight":18,"anchor":"middle","frame":"group","dx":-28,"offset":14,"color":"#000"}
}
}
